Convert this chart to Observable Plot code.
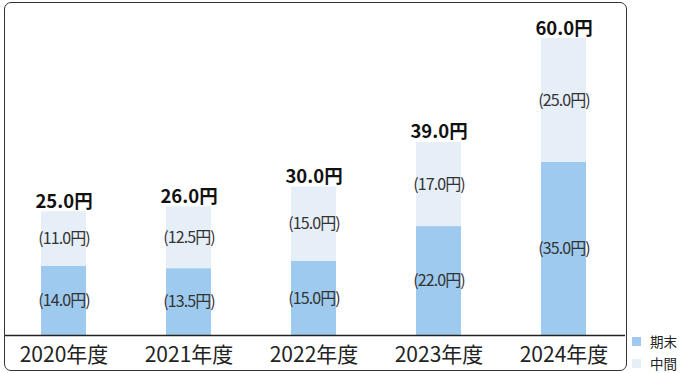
<!DOCTYPE html>
<html>
<head>
<meta charset="utf-8">
<script src="https://cdn.jsdelivr.net/npm/d3@7"></script>
<script src="https://cdn.jsdelivr.net/npm/@observablehq/plot@0.6"></script>
<style>
  html, body { margin:0; padding:0; background:#fff; }
  #wrap { position:relative; width:680px; height:373px; font-family:"Noto Sans CJK JP","Noto Sans",sans-serif; color:#222; }
  #box { position:absolute; left:4px; top:2px; width:623px; height:369px; box-sizing:border-box; border:1.5px solid #333; border-radius:7px; }
  #chart { position:absolute; left:0; top:0; }
  .legend { position:absolute; left:632px; font-size:13.5px; line-height:16px; display:flex; align-items:center; }
  .legend span.sw { display:inline-block; width:9px; height:9px; margin-right:9px; }
</style>
</head>
<body>
<div id="wrap">
  <div id="box"></div>
  <div id="chart"></div>
  <div id="legend"></div>
</div>
<script>
const years = ["2020年度","2021年度","2022年度","2023年度","2024年度"];
const kimatsu = [14.0, 13.5, 15.0, 22.0, 35.0];   // 期末
const chukan  = [11.0, 12.5, 15.0, 17.0, 25.0];   // 中間
const totals  = [25.0, 26.0, 30.0, 39.0, 60.0];
const seriesNames = ["期末", "中間"];
const seriesColors = ["#9dcaee", "#e6eef8"];

const rows = [];
years.forEach((yr, i) => {
  const a = kimatsu[i], b = chukan[i];
  rows.push({year: yr, type: "期末", value: a, y1: 0, y2: a, mid: a / 2});
  rows.push({year: yr, type: "中間", value: b, y1: a, y2: a + b, mid: a + b / 2});
});
const totalRows = years.map((yr, i) => ({year: yr, total: totals[i]}));

const chart = Plot.plot({
  width: 680,
  height: 373,
  marginLeft: 5,
  marginRight: 55,
  marginTop: 0,
  marginBottom: 0,
  style: {fontFamily: "'Noto Sans CJK JP','Noto Sans',sans-serif", color: "#222", background: "transparent"},
  x: {domain: years, range: [-1.5, 628], paddingInner: 0.643, paddingOuter: 0.32, axis: null},
  y: {domain: [0, 60], range: [335, 38], axis: null},
  color: {domain: seriesNames, range: seriesColors},
  marks: [
    Plot.barY(rows, {x: "year", y1: "y1", y2: "y2", fill: "type"}),
    Plot.ruleY([0], {stroke: "#222", strokeWidth: 1.5}),
    Plot.text(rows, {x: "year", y: "mid", text: d => `(${d.value.toFixed(1)}円)`, fontSize: 16, fill: "#333"}),
    Plot.text(totalRows, {x: "year", y: "total", text: d => `${d.total.toFixed(1)}円`, fontSize: 18.5, fontWeight: "bold", lineAnchor: "bottom", dy: -4, fill: "#111"}),
    Plot.text(years, {x: d => d, y: () => 0, text: d => d, fontSize: 21, lineAnchor: "middle", dy: 20, fill: "#222"})
  ]
});
// condense the in-bar labels a little, like the reference font
d3.select(chart).selectAll('g[aria-label="text"]').filter((d, i) => i === 0).style("letter-spacing", "-0.9px");
document.getElementById("chart").appendChild(chart);

const legend = document.getElementById("legend");
seriesNames.forEach((name, i) => {
  const el = document.createElement("div");
  el.className = "legend";
  el.style.top = (333 + i * 22) + "px";
  el.innerHTML = `<span class="sw" style="background:${seriesColors[i]}"></span>${name}`;
  legend.appendChild(el);
});
</script>
</body>
</html>
